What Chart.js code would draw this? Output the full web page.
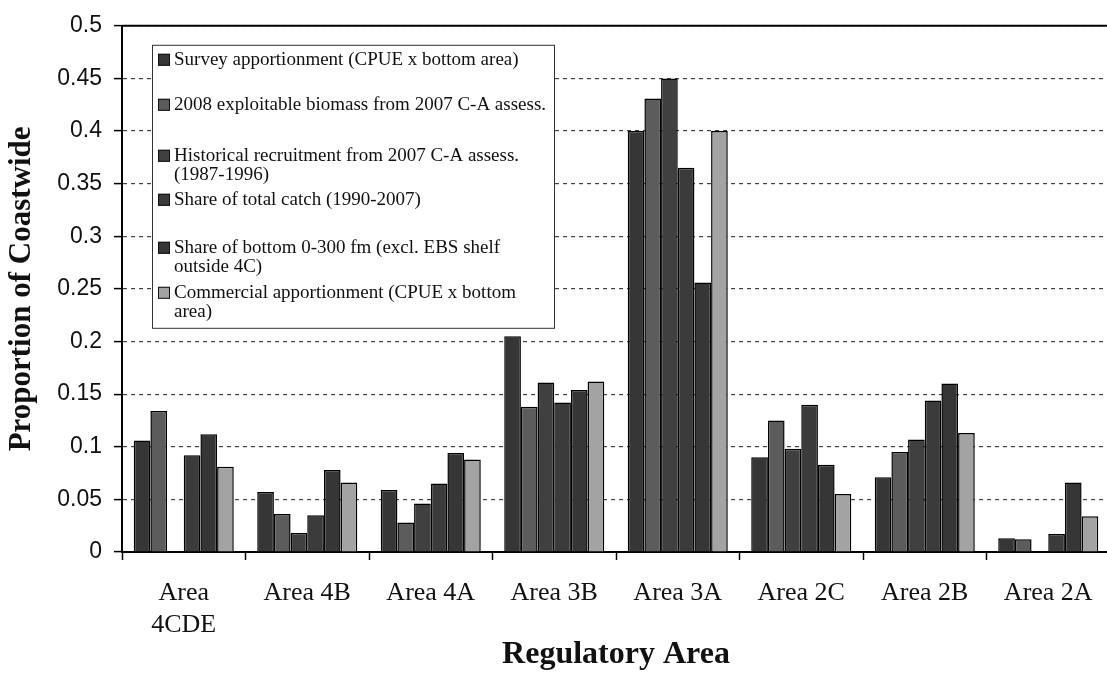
<!DOCTYPE html>
<html>
<head>
<meta charset="utf-8">
<script src="https://cdn.jsdelivr.net/npm/chart.js@4.4.1/dist/chart.umd.min.js"></script>
<style>
    html, body { margin: 0; padding: 0; background: #fff; overflow: hidden; }
    #wrap { width: 1111px; height: 677px; }
</style>
</head>
<body>
<div id="wrap"><canvas id="chart" width="1111" height="677"></canvas></div>
<script>
// Regulatory areas (x axis)
const categories = [['Area', '4CDE'], 'Area 4B', 'Area 4A', 'Area 3B', 'Area 3A', 'Area 2C', 'Area 2B', 'Area 2A'];

// Proportion of coastwide, one array per method
const surveyApportionment = [0.106, 0.057, 0.059, 0.205, 0.400, 0.090, 0.071, 0.013];
const exploitableBiomass  = [0.134, 0.036, 0.028, 0.138, 0.431, 0.125, 0.095, 0.012];
const historicalRecruit   = [0,     0.018, 0.046, 0.161, 0.450, 0.098, 0.107, 0];
const shareTotalCatch     = [0.092, 0.035, 0.065, 0.142, 0.365, 0.140, 0.144, 0.017];
const shareBottomArea     = [0.112, 0.078, 0.094, 0.154, 0.256, 0.083, 0.160, 0.066];
const commercialApport    = [0.081, 0.066, 0.088, 0.162, 0.400, 0.055, 0.113, 0.034];

// y axis ticks
const yTicks = [0, 0.05, 0.1, 0.15, 0.2, 0.25, 0.3, 0.35, 0.4, 0.45, 0.5];

// Legend labels (lines as wrapped in the original)
const seriesLabels = [
    ['Survey apportionment (CPUE x bottom area)'],
    ['2008 exploitable biomass from 2007 C-A assess.'],
    ['Historical recruitment from 2007 C-A assess.', '(1987-1996)'],
    ['Share of total catch (1990-2007)'],
    ['Share of bottom 0-300 fm (excl. EBS shelf', 'outside 4C)'],
    ['Commercial apportionment (CPUE x bottom', 'area)']
];
const seriesData = [surveyApportionment, exploitableBiomass, historicalRecruit,
    shareTotalCatch, shareBottomArea, commercialApport];
const seriesColors = ['#363636', '#5c5c5c', '#404040', '#3b3b3b', '#363636', '#a3a3a3'];

const serif = "'Liberation Serif', 'Times New Roman', serif";
const sans = "'Liberation Sans', Arial, sans-serif";

// Boxed legend drawn inside the plot, top left
const boxLegend = {
    id: 'boxLegend',
    afterDatasetsDraw(chart) {
        const ctx = chart.ctx;
        const area = chart.chartArea;
        const x0 = area.left + 30;
        const y0 = area.top + 19;
        const w = 402;
        const h = 283;
        const firstLine = [15, 60, 111, 155, 203, 248]; // first line of each item, from box top
        const lineGap = 19;

        ctx.save();
        ctx.fillStyle = '#fff';
        ctx.fillRect(x0, y0, w, h);
        ctx.strokeStyle = '#333';
        ctx.lineWidth = 1;
        ctx.strokeRect(x0 + 0.5, y0 + 0.5, w, h);

        ctx.font = '19px ' + serif;
        ctx.textBaseline = 'middle';
        seriesLabels.forEach((lines, i) => {
            const cy = y0 + firstLine[i];
            ctx.fillStyle = seriesColors[i];
            ctx.fillRect(x0 + 6, cy - 6, 12, 12);
            ctx.strokeStyle = '#111';
            ctx.strokeRect(x0 + 6.5, cy - 5.5, 11, 11);
            ctx.fillStyle = '#111';
            lines.forEach((line, j) => {
                ctx.fillText(line, x0 + 22, cy + j * lineGap);
            });
        });
        ctx.restore();
    }
};

// Top border of the plot area
const topBorder = {
    id: 'topBorder',
    afterDraw(chart) {
        const ctx = chart.ctx;
        const area = chart.chartArea;
        ctx.save();
        ctx.strokeStyle = '#000';
        ctx.lineWidth = 2;
        ctx.beginPath();
        ctx.moveTo(area.left, area.top);
        ctx.lineTo(area.right, area.top);
        ctx.stroke();
        ctx.restore();
    }
};

const ctx = document.getElementById('chart').getContext('2d');
new Chart(ctx, {
    type: 'bar',
    data: {
        labels: categories,
        datasets: seriesData.map((data, i) => ({
            label: seriesLabels[i].join(' '),
            data: data,
            backgroundColor: seriesColors[i],
            borderColor: '#000',
            borderWidth: 1.5,
            categoryPercentage: 0.81,
            barPercentage: 1.0
        }))
    },
    options: {
        responsive: false,
        animation: false,
        layout: { padding: { top: 21, right: 1, left: 0, bottom: 0 } },
        plugins: {
            legend: { display: false },
            tooltip: { enabled: false }
        },
        scales: {
            x: {
                afterFit: scale => { scale.height = 125; },
                grid: {
                    display: true,
                    drawOnChartArea: false,
                    drawTicks: true,
                    tickLength: 8,
                    tickColor: '#000',
                    tickWidth: 1.5
                },
                border: { display: true, color: '#000', width: 2 },
                ticks: {
                    color: '#111',
                    padding: 17,
                    maxRotation: 0,
                    autoSkip: false,
                    font: { family: serif, size: 26, lineHeight: 1.23 }
                },
                title: {
                    display: true,
                    text: 'Regulatory Area',
                    color: '#111',
                    font: { family: serif, size: 32, weight: 'bold' },
                    padding: { top: 0, bottom: 3 }
                }
            },
            y: {
                min: 0,
                max: 0.5,
                afterFit: scale => { scale.width = 122; },
                afterBuildTicks: scale => { scale.ticks = yTicks.map(v => ({ value: v })); },
                grid: {
                    color: '#444',
                    lineWidth: 1.2,
                    tickLength: 8,
                    tickColor: '#000',
                    tickWidth: 1.5
                },
                border: { display: true, color: '#000', width: 2, dash: [4, 4] },
                ticks: {
                    color: '#111',
                    padding: 12,
                    font: { family: sans, size: 23 },
                    callback: value => String(value)
                },
                title: {
                    display: true,
                    text: 'Proportion of Coastwide',
                    color: '#111',
                    font: { family: serif, size: 31, weight: 'bold' },
                    padding: { top: 3, bottom: 0 }
                }
            }
        }
    },
    plugins: [boxLegend, topBorder]
});
</script>
</body>
</html>
